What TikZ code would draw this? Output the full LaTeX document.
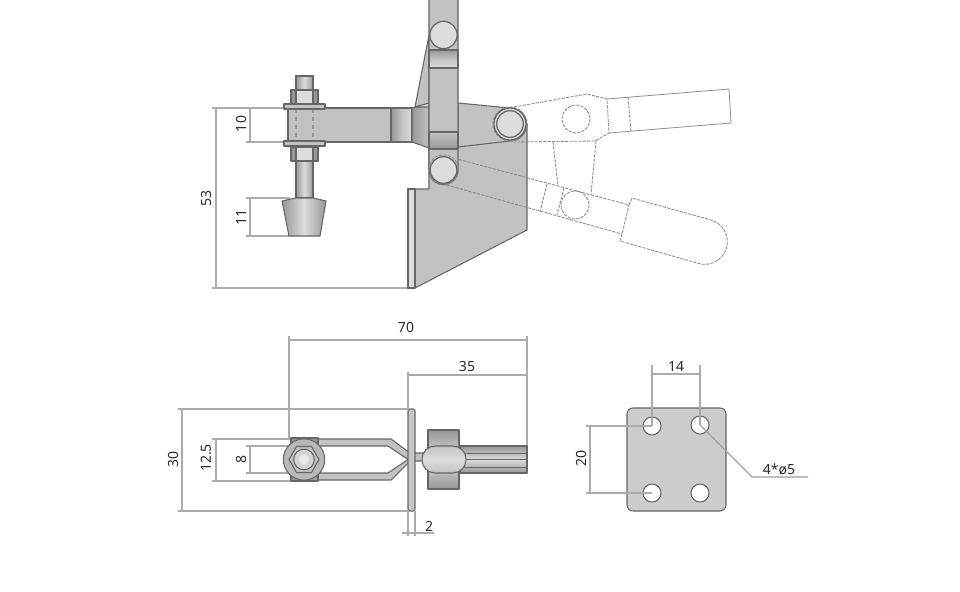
\documentclass[tikz,border=0pt]{standalone}
\usepackage{fontspec}
\setmainfont{Noto Sans}
\definecolor{edge}{HTML}{666666}
\definecolor{body}{HTML}{C2C2C2}
\definecolor{pin}{HTML}{DCDCDC}
\definecolor{dim}{HTML}{ABABAB}
\definecolor{ghost}{HTML}{8C8C8C}
\definecolor{txt}{HTML}{2A2A2A}
\definecolor{darkp}{HTML}{979797}
\tikzset{
  part/.style={draw=edge,line width=0.8pt,fill=body,line join=round},
  pinc/.style={draw=edge,line width=0.95pt,fill=pin},
  dimline/.style={draw=dim,line width=0.8pt},
  ghostline/.style={draw=ghost,line width=0.65pt,dash pattern=on 2.4pt off 0.9pt},
  lab/.style={text=txt,font=\fontsize{10.5}{12}\selectfont,inner sep=0pt},
  vband/.style={part,left color=darkp,right color=pin,middle color=body},
  hband/.style={part,top color=darkp,bottom color=pin,middle color=body},
  rod/.style={part,left color=darkp,right color=darkp,middle color=pin},
  bar/.style={part,top color=darkp,bottom color=darkp,middle color=pin},
}
\begin{document}
\begin{tikzpicture}[x=0.75pt,y=-0.75pt]
\useasboundingbox (0,0) rectangle (960,592);
\fill[white] (0,0) rectangle (960,592);

% ---- dimensions, top view
\draw[dimline] (212,108)--(283,108) (246,142)--(284,142) (250,108)--(250,142);
\draw[dimline] (246,198)--(290,198) (246,236)--(290,236) (250,198)--(250,236);
\draw[dimline] (212,288)--(408,288) (216,108)--(216,288);
\node[lab,rotate=90] (d10) at (241,124) {10};
\node[lab,rotate=90] (d11) at (241,217) {11};
\node[lab,rotate=90] (d53) at (206,198) {53};

% ---- base plate
\draw[part] (429,140)--(429,189)--(408,189)--(408,288)--(415,288)--(527,230)--(527,124)--(500,124)--cycle;
\draw[part,fill=pin] (408,189)--(415,189)--(415,288)--(408,288)--cycle;

% ---- ghost handles
\draw[ghostline] (514,107)--(587,94)--(607,99)--(609,133)--(595,141)--(514,142);
\draw[ghostline] (628,97)--(631,131);
\draw[ghost,line width=0.6pt] (607,99)--(729,89)--(731,123)--(609,133);
\draw[ghostline] (576,119) circle[radius=14];
\draw[ghostline] (553,142)--(558,186) (596,141)--(591,195);
\draw[ghostline] (446,156)--(629,205) (443,184)--(622,234);
\draw[ghostline] (547,184)--(540,212) (564,188)--(557,215);
\draw[ghostline] (575,205) circle[radius=14];
\draw[ghostline] (629,205)--(632,198)--(711,220) arc[start angle=-74,end angle=106,radius=22.6] --(620,241)--(622,234)--cycle;

% ---- clamp arm
\draw[part] (288,108)--(392,108)--(392,142)--(288,142)--cycle;
\draw[vband] (391,108)--(412,108)--(412,142)--(391,142)--cycle;
\draw[part,fill=body] (429,35)--(415,107)--(429,104)--cycle;
\draw[part,left color=darkp,right color=body] (412,108)--(429,104)--(429,148)--(412,142)--cycle;
\draw[part,fill=pin!80!body] (415,107)--(429,103)--(429,107)--cycle;

% ---- right link
\draw[part] (458,103)--(510,108) arc[start angle=-90,end angle=90,radius=16.5]--(458,147)--cycle;
\draw[ghostline] (510,124) circle[radius=17];

% ---- lever
\draw[part] (429,0)--(429,170) arc[start angle=180,end angle=0,radius=14.5]--(458,0);
\draw[hband] (429,50)--(458,50)--(458,68)--(429,68)--cycle;
\draw[part,top color=body,bottom color=darkp] (429,132)--(458,132)--(458,149)--(429,149)--cycle;

% ---- pins
\node[pinc,circle,minimum size=20.5pt,inner sep=0pt] (pinA) at (443.5,35) {};
\draw[ghostline] (443.5,170) circle[radius=15];
\node[pinc,circle,minimum size=20pt,inner sep=0pt] (pinB) at (443.5,170) {};
\node[pinc,circle,minimum size=24pt,inner sep=0pt] (pinC) at (510,124) {};
\node[pinc,circle,minimum size=20pt,inner sep=0pt] (pinD) at (510,124) {};

% ---- bolt, top view
\draw[rod] (296,76)--(313,76)--(313,198)--(296,198)--cycle;
\draw[part,fill=body] (288,108)--(325,108)--(325,142)--(288,142)--cycle;
\draw[draw=none,fill=body] (295,109)--(326,109)--(326,141)--(295,141)--cycle;
\draw[dimline,dashed,draw=darkp] (296,109)--(296,141) (313,109)--(313,141);
\draw[part,fill=darkp] (291,90)--(318,90)--(318,105)--(291,105)--cycle;
\draw[part,fill=pin] (296,90)--(313,90)--(313,105)--(296,105)--cycle;
\draw[part,fill=darkp] (291,147)--(318,147)--(318,161)--(291,161)--cycle;
\draw[part,fill=pin] (296,147)--(313,147)--(313,161)--(296,161)--cycle;
\draw[part] (284,104)--(325,104)--(325,109)--(284,109)--cycle;
\draw[part] (284,141)--(325,141)--(325,146)--(284,146)--cycle;
\draw[rod] (296,76)--(313,76)--(313,90)--(296,90)--cycle;
\draw[rod] (282,201)--(296,198)--(313,198)--(326,201)--(320,236)--(289,236)--cycle;

% ---- dimensions, front view
\draw[dimline] (178,409)--(408,409) (178,511)--(408,511) (182,409)--(182,511);
\draw[dimline] (212,439)--(291,439) (212,481)--(291,481) (216,439)--(216,481);
\draw[dimline] (246,446)--(291,446) (246,473)--(291,473) (250,446)--(250,473);
\draw[dimline] (289,336)--(289,438) (527,336)--(527,446) (289,340)--(527,340);
\draw[dimline] (408,372)--(408,409) (408,375)--(527,375);
\draw[dimline] (408,511)--(408,536) (415,511)--(415,536) (402,533)--(434,533);
\node[lab,rotate=90] (d30) at (173,459) {30};
\node[lab,rotate=90] (d125) at (206,458) {12.5};
\node[lab,rotate=90] (d8) at (241,459) {8};
\node[lab] (d70) at (406,327) {70};
\node[lab] (d35) at (467,366) {35};
\node[lab] (d2) at (429,526) {2};

% ---- front view parts
\draw[part] (318,439)--(391,439)--(410,453)--(424,453)--(424,461)--(410,461)--(391,480)--(318,480)--(318,473)--(388,473)--(408,459.5)--(388,446)--(318,446)--cycle;
\draw[part,fill=body!85!pin,rounded corners=1.2pt] (408,409)--(415,409)--(415,511)--(408,511)--cycle;
\draw[part,top color=darkp,bottom color=darkp,middle color=pin] (428,430)--(459,430)--(459,489)--(428,489)--cycle;
\draw[bar] (460,446)--(527,446)--(527,473)--(460,473)--cycle;
\draw[edge,line width=0.7pt] (462,453)--(527,453) (462,459.5)--(527,459.5) (462,467)--(527,467);
\draw[part,top color=body,bottom color=body,middle color=pin,rounded corners=9.8pt] (422,446) rectangle (466,473);
\draw[part,top color=darkp,bottom color=darkp,middle color=body] (291,438)--(318,438)--(318,481)--(291,481)--cycle;
\node[part,circle,minimum size=31pt,inner sep=0pt,fill=body!95!black] (washer) at (304,459.5) {};
\draw[part] (319,459.5)--(311.5,472.5)--(296.5,472.5)--(289,459.5)--(296.5,446.5)--(311.5,446.5)--cycle;
\node[part,circle,minimum size=15.5pt,inner sep=0pt,fill=body!70!white] (nut) at (304,459.5) {};
\fill[pin!60!white] (304,459.5) circle[radius=5];

% ---- mounting plate
\draw[part,fill=body!60!pin,rounded corners=4.5pt] (627,408) rectangle (726,511);
\node[part,circle,minimum size=13.5pt,inner sep=0pt,fill=white] (h1) at (652,426) {};
\node[part,circle,minimum size=13.5pt,inner sep=0pt,fill=white] (h2) at (700,425) {};
\node[part,circle,minimum size=13.5pt,inner sep=0pt,fill=white] (h3) at (652,493) {};
\node[part,circle,minimum size=13.5pt,inner sep=0pt,fill=white] (h4) at (700,493) {};
\coordinate (tipA) at (652,365);
\coordinate (tipB) at (700,365);
\coordinate (tipC) at (586,426);
\coordinate (tipD) at (586,493);
\coordinate (lead) at (752,477);
\coordinate (leadEnd) at (808,477);
\draw[dimline] (h1.center)--(tipA) (h2.center)--(tipB) (652,374)--(700,374);
\draw[dimline] (h1.center)--(tipC) (h3.center)--(tipD) (590,426)--(590,493);
\draw[dimline,draw=dim!90!black] (h2.center)--(lead)--(leadEnd);
\node[lab] (d14) at (676,366) {14};
\node[lab,rotate=90] (d20) at (581,458) {20};
\node[lab] (d4) at (779,469) {4*ø5};
\end{tikzpicture}
\end{document}
